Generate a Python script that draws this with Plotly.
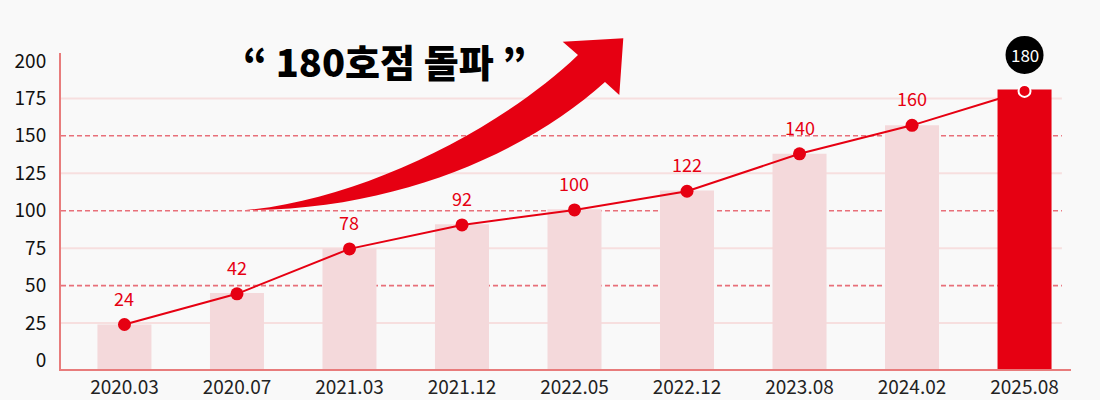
import plotly.graph_objects as go

# ---- data ----
categories = ["2020.03", "2020.07", "2021.03", "2021.12", "2022.05",
              "2022.12", "2023.08", "2024.02", "2025.08"]
bar_values = [24, 45, 75, 91, 101, 113.5, 138, 157, 181]
line_values = [24, 44.5, 74.5, 90.5, 100.5, 113, 138, 157, 180]
point_labels = ["24", "42", "78", "92", "100", "122", "140", "160", "180"]
y_ticks = [0, 25, 50, 75, 100, 125, 150, 175, 200]
solid_grid = [25, 75, 125, 175]
dashed_grid = [50, 100, 150]
title_text = "“ 180호점 돌파 ”"

# ---- layout constants ----
W, H = 1100, 400
L, R, T, B = 61, 29, 53, 31
YMIN, YMAX = -5.7, 205.3
XMIN, XMAX = -0.564, 8.413
RED = "#e60012"
BG = "#f9f9f9"
FONT = "Noto Sans CJK KR"

n = len(categories)
idx = list(range(n))
bar_colors = ["#f4d9db"] * (n - 1) + [RED]

fig = go.Figure()
fig.add_trace(go.Bar(
    x=categories, y=[v - YMIN for v in bar_values], base=YMIN,
    marker=dict(color=bar_colors, line=dict(width=0)),
    width=0.48, hoverinfo="skip", showlegend=False,
))
fig.add_trace(go.Scatter(
    x=categories, y=line_values, mode="lines+markers",
    line=dict(color=RED, width=2),
    marker=dict(size=[13] * (n - 1) + [12], color=RED, opacity=1,
                line=dict(color=[RED] * (n - 1) + ["white"],
                          width=[0] * (n - 1) + [2])),
    showlegend=False, cliponaxis=False,
))

shapes = []
for v in solid_grid:
    shapes.append(dict(type="line", xref="paper", yref="y", x0=0, x1=0.991,
                       y0=v, y1=v, layer="below",
                       line=dict(color="#f7dfdf", width=2)))
for v in dashed_grid:
    shapes.append(dict(type="line", xref="paper", yref="y", x0=0, x1=0.991,
                       y0=v, y1=v, layer="below",
                       line=dict(color="#e8707a", width=1.6, dash="5px,3px")))

# decorative arrow (page pixel -> paper)
pw, ph = W - L - R, H - T - B
def P(px, py):
    return f"{(px - L) / pw:.5f},{(H - B - py) / ph:.5f}"

arrow_path = (
    f"M {P(246, 210)} "
    f"C {P(400, 210)} {P(530, 150)} {P(605, 82)} "
    f"L {P(619.3, 95)} L {P(623.3, 38.3)} L {P(562.7, 41.7)} L {P(578, 55)} "
    f"C {P(500, 130)} {P(360, 200)} {P(246, 210)} Z"
)
shapes.append(dict(type="path", xref="paper", yref="paper", path=arrow_path,
                   fillcolor=RED, line=dict(width=0), layer="above"))

# badge circle above last point (paper refs so it is not clipped)
bx = (idx[-1] - XMIN) / (XMAX - XMIN)
by = (line_values[-1] - YMIN) / (YMAX - YMIN)
shapes.append(dict(type="circle", xref="paper", yref="paper",
                   xsizemode="pixel", ysizemode="pixel",
                   xanchor=bx, yanchor=by,
                   x0=-19, x1=19, y0=17, y1=55,
                   fillcolor="black", line=dict(width=0), layer="above"))

annotations = []
for i, v, t in zip(idx[:-1], line_values[:-1], point_labels[:-1]):
    annotations.append(dict(x=i, y=v, xref="x", yref="y", text=t,
                            showarrow=False, yshift=27,
                            xanchor="center", yanchor="middle",
                            font=dict(family=FONT, size=18, color=RED)))
annotations.append(dict(x=idx[-1], y=line_values[-1], xref="x", yref="y",
                        text=point_labels[-1], showarrow=False, yshift=36,
                        xanchor="center", yanchor="middle",
                        font=dict(family=FONT, size=17, color="white")))
annotations.append(dict(xref="paper", yref="paper",
                        x=(384 - L) / pw, y=(H - B - 60) / ph,
                        xanchor="center", yanchor="middle",
                        text=title_text, showarrow=False,
                        font=dict(family=FONT, size=38, color="black", weight=900)))

fig.update_layout(
    width=W, height=H, autosize=False,
    margin=dict(l=L, r=R, t=T, b=B),
    paper_bgcolor=BG, plot_bgcolor=BG,
    shapes=shapes, annotations=annotations,
    font=dict(family=FONT),
)
fig.update_xaxes(
    type="category", range=[XMIN, XMAX], automargin=False,
    showgrid=False, showline=True, linecolor="#e87c7c", linewidth=2,
    ticks="", tickfont=dict(family=FONT, size=19, color="#222"),
    fixedrange=True,
)
fig.update_yaxes(
    range=[YMIN, YMAX], tickvals=y_ticks, showgrid=False, zeroline=False,
    automargin=False,
    showline=True, linecolor="#e87c7c", linewidth=2,
    ticks="", ticklabelstandoff=9,
    tickfont=dict(family=FONT, size=19, color="#111"),
    fixedrange=True,
)

fig.write_html(
    "out.html",
    config={"displayModeBar": False},
    post_script="document.body.style.margin='0';"
                "document.body.style.background='" + BG + "';",
)
